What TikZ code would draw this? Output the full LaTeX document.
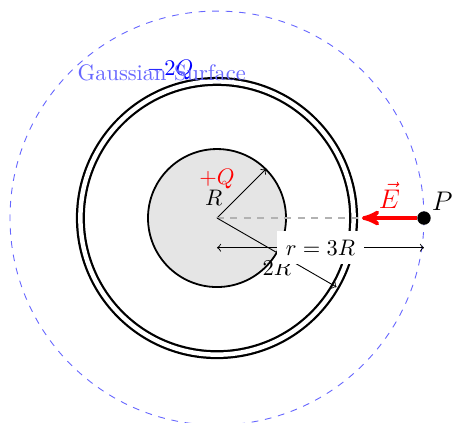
\documentclass[tikz,border=0pt]{standalone}
\usepackage{amsmath}
\usepackage{tikz}
\usetikzlibrary{arrows}
\tikzstyle{core}=[circle,draw,fill=gray!20,thick]
\tikzstyle{shell}=[draw,double,double distance=2pt,line width=1pt]
\tikzstyle{gauss}=[draw,dashed,blue!60]
\tikzstyle{arr}=[->,>=to,draw]
\tikzstyle{biarr}=[<->,>=to,draw]
\tikzstyle{field}=[->,>=stealth',draw,red,ultra thick]

\begin{document}
\begin{tikzpicture}[x=1.08cm,y=1.08cm]
      \useasboundingbox (-3.145,-2.97) rectangle (3.435,3.16);
      \coordinate (O) at (0,0);
      \coordinate (A) at (45:1);
      \coordinate (B) at (-30:2);
      \coordinate (C) at (0,-0.43);
      \coordinate (D) at (3,-0.43);
      \coordinate (Et) at (2.1,0);
      \draw[core] (O) circle (1);
      \draw[shell] (O) circle (1.98);
      \draw[gauss] (O) circle (3);
      \node[red] (q1) at (0,0.56) {$+Q$};
      \node[blue] (q2) at (-0.68,2.14) {$-2Q$};
      \node[blue!60] (gs) at (-0.8,2.1) {Gaussian Surface};
      \draw[arr] (O) -- node[left=5pt,yshift=-2pt] (rl) {$R$} (A);
      \draw[gray!60,dashed,thick] (O) -- (3,0);
      \node[circle,fill=black,inner sep=0pt,minimum size=6pt] (P) at (3,0) {};
      \node[above right] (pl) at (P) {\large $P$};
      \draw[field] (P) -- node[above] (el) {\large $\vec{E}$} (Et);
      \draw[arr] (O) -- node[below] (tl) {$2R$} (B);
      \draw[biarr] (C) -- node[fill=white,inner sep=4pt] (rr) {$r = 3R$} (D);
  \end{tikzpicture}
\end{document}
